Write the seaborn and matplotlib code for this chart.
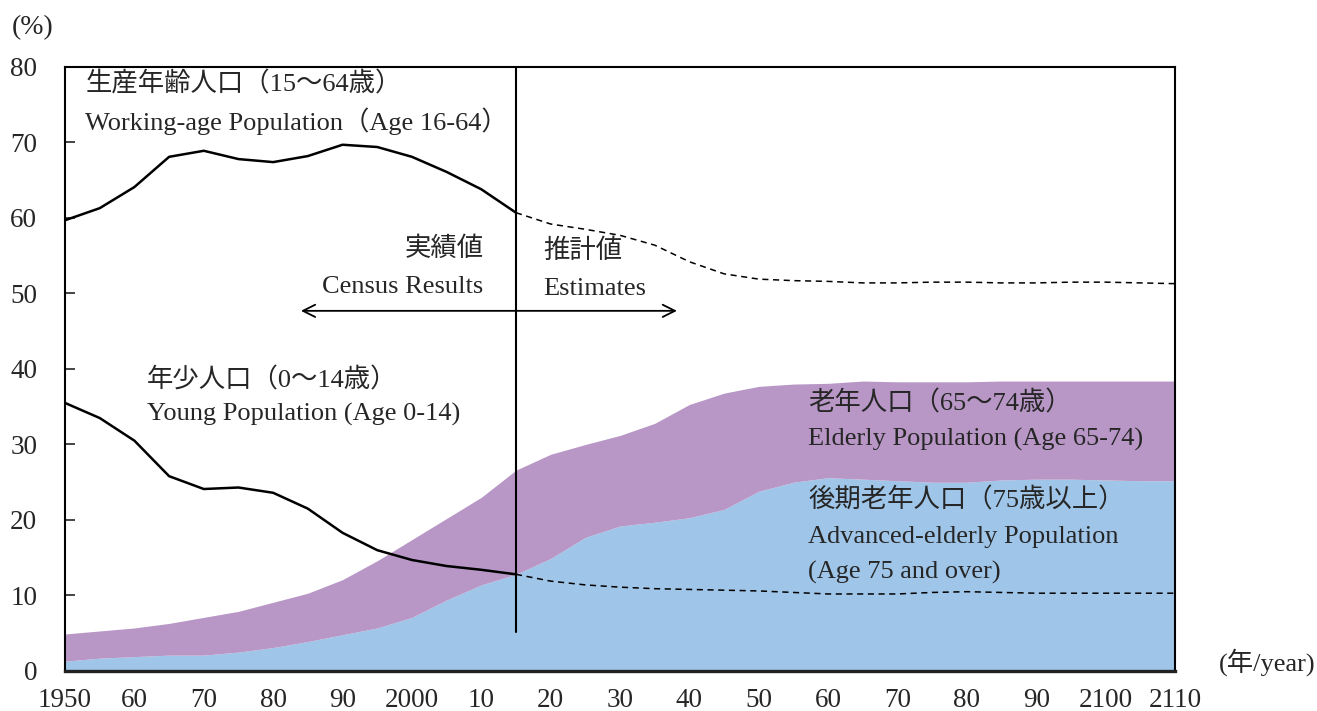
import pandas as pd
import matplotlib.pyplot as plt
import seaborn as sns

#--------------------------------------------------------------
# 1. Data (share of total population, %)
#--------------------------------------------------------------
years = list(range(1950, 2111, 5))

working_age = [59.7, 61.3, 64.1, 68.1, 68.9, 67.8, 67.4, 68.2, 69.7, 69.4,
               68.1, 66.1, 63.8, 60.7,
               59.2, 58.5, 57.7, 56.4, 54.2, 52.6, 51.9, 51.7, 51.6, 51.4,
               51.4, 51.5, 51.5, 51.4, 51.4, 51.5, 51.5, 51.4, 51.3]

young = [35.5, 33.5, 30.5, 25.8, 24.1, 24.3, 23.6, 21.5, 18.3, 16.0,
         14.7, 13.9, 13.4, 12.8,
         11.9, 11.4, 11.1, 10.9, 10.8, 10.7, 10.6, 10.4, 10.2, 10.2,
         10.2, 10.4, 10.5, 10.4, 10.3, 10.3, 10.3, 10.3, 10.3]

elderly_65_74 = [3.6, 3.6, 3.8, 4.2, 5.0, 5.4, 6.0, 6.4, 7.3, 8.9,
                 10.3, 10.8, 11.6, 13.8,
                 13.8, 12.3, 12.0, 13.1, 15.0, 15.4, 13.9, 13.0, 12.5, 13.0,
                 13.1, 13.3, 13.3, 13.1, 13.0, 13.0, 13.1, 13.2, 13.2]

elderly_75_over = [1.3, 1.7, 1.9, 2.1, 2.1, 2.5, 3.1, 3.9, 4.8, 5.7,
                   7.1, 9.4, 11.4, 12.8,
                   14.9, 17.7, 19.2, 19.7, 20.3, 21.4, 23.8, 25.0, 25.6, 25.4,
                   25.2, 25.0, 25.0, 25.3, 25.4, 25.4, 25.3, 25.2, 25.2]

last_census = 2015
x_tick_years = list(range(1950, 2111, 10))
x_tick_labels = ['1950', '60', '70', '80', '90', '2000', '10', '20', '30',
                 '40', '50', '60', '70', '80', '90', '2100', '2110']
y_ticks = list(range(0, 81, 10))

df = pd.DataFrame({
    'year': years,
    'working': working_age,
    'young': young,
    'old1': elderly_65_74,
    'old2': elderly_75_over,
})
df['old_total'] = df['old1'] + df['old2']
census = df[df['year'] <= last_census]
estimate = df[df['year'] >= last_census]

#--------------------------------------------------------------
# 2. Fonts / style
#--------------------------------------------------------------
sns.set_style('white')
plt.rcParams['font.family'] = ['Liberation Serif', 'Noto Sans CJK JP']
FS = 19
TICK_FS = 19.5

purple = '#b897c6'
blue = '#9fc5e8'

#--------------------------------------------------------------
# 3. Plot
#--------------------------------------------------------------
fig = plt.figure(figsize=(13.17, 7.11), dpi=100)
ax = fig.add_axes([0.0494, 0.0563, 0.8428, 0.8495])

ax.fill_between(df['year'], 0, df['old2'], color=blue, linewidth=0)
ax.fill_between(df['year'], df['old2'], df['old_total'], color=purple, linewidth=0)

sns.lineplot(data=census, x='year', y='working', color='black', linewidth=1.8, ax=ax)
sns.lineplot(data=census, x='year', y='young', color='black', linewidth=1.8, ax=ax)
sns.lineplot(data=estimate, x='year', y='working', color='black', linewidth=1.1,
             linestyle=(0, (4, 3)), ax=ax)
sns.lineplot(data=estimate, x='year', y='young', color='black', linewidth=1.1,
             linestyle=(0, (4, 3)), ax=ax)

# census / estimate divider and arrow
ax.plot([last_census, last_census], [5.2, 80], color='black', linewidth=1.5)
ax.annotate('', xy=(1983.6, 47.7), xytext=(2038.6, 47.7),
            arrowprops=dict(arrowstyle='<->', color='black', lw=1.3,
                            mutation_scale=22))

# labels
ax.text(1952.9, 77.7, '生産年齢人口（15〜64歳）', fontsize=FS, va='center')
ax.text(1952.9, 72.8, 'Working-age Population（Age 16-64）', fontsize=FS, va='center')
ax.text(2010.3, 55.9, '実績値', fontsize=FS, va='center', ha='right')
ax.text(2010.3, 50.9, 'Census Results', fontsize=FS, va='center', ha='right')
ax.text(2018.9, 55.7, '推計値', fontsize=FS, va='center')
ax.text(2018.9, 50.6, 'Estimates', fontsize=FS, va='center')
ax.text(1961.8, 38.5, '年少人口（0〜14歳）', fontsize=FS, va='center')
ax.text(1961.8, 34.0, 'Young Population (Age 0-14)', fontsize=FS, va='center')
ax.text(2057.1, 35.5, '老年人口（65〜74歳）', fontsize=FS, va='center')
ax.text(2057.1, 30.7, 'Elderly Population (Age 65-74)', fontsize=FS, va='center')
ax.text(2057.1, 22.6, '後期老年人口（75歳以上）', fontsize=FS, va='center')
ax.text(2057.1, 17.7, 'Advanced-elderly Population', fontsize=FS, va='center')
ax.text(2057.1, 13.1, '(Age 75 and over)', fontsize=FS, va='center')

#--------------------------------------------------------------
# 4. Axes
#--------------------------------------------------------------
ax.set_xlim(1950, 2110)
ax.set_ylim(0, 80)
ax.set_xticks(x_tick_years)
ax.set_xticklabels(x_tick_labels, fontsize=TICK_FS)
ax.set_yticks(y_ticks)
ax.set_yticklabels([str(v) for v in y_ticks], fontsize=TICK_FS)
ax.tick_params(axis='x', length=0, pad=12)
ax.tick_params(axis='y', direction='in', length=7, width=1.2, pad=20, left=True)
ax.set_xlabel('')
ax.set_ylabel('')
for side in ['left', 'right', 'top']:
    ax.spines[side].set_linewidth(1.5)
    ax.spines[side].set_color('black')
ax.spines['bottom'].set_linewidth(2.4)
ax.spines['bottom'].set_color('#222222')

fig.text(0.009, 0.961, '(%)', fontsize=20, va='center')
fig.text(0.999, 0.069, '(年/year)', fontsize=19, va='center', ha='right')

plt.savefig('out.png', dpi=100)
